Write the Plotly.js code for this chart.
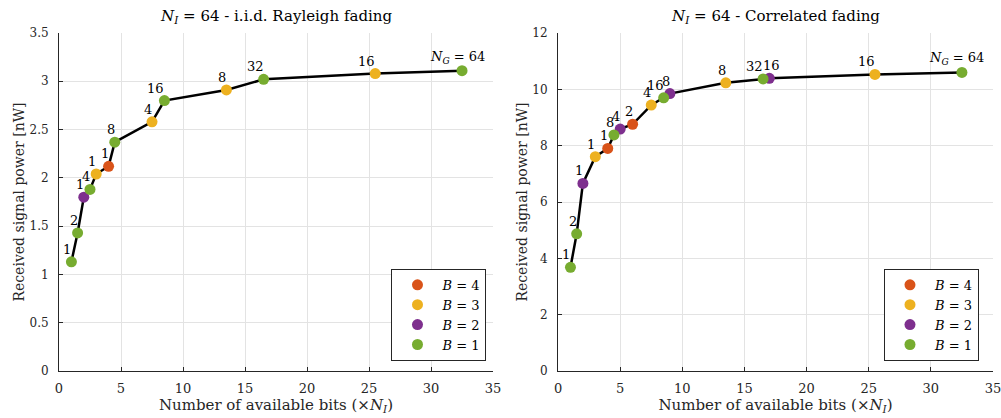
<!DOCTYPE html>
<html>
<head>
<meta charset="utf-8">
<script src="https://cdn.plot.ly/plotly-3.0.1.min.js"></script>
<style>html,body{margin:0;padding:0;background:#fff;}</style>
</head>
<body>
<div id="chart" style="width:1001px;height:418px;"></div>
<script>
// ---- Left panel: i.i.d. Rayleigh fading ----
const iidB1x = [1, 1.5, 2.5, 4.5, 8.5, 16.5, 32.5];
const iidB1y = [1.13, 1.43, 1.88, 2.37, 2.80, 3.02, 3.11];
const iidB1ng = [1, 2, 4, 8, 16, 32, 64];
const iidB2x = [2];
const iidB2y = [1.80];
const iidB2ng = [1];
const iidB3x = [3, 7.5, 13.5, 25.5];
const iidB3y = [2.04, 2.58, 2.91, 3.08];
const iidB3ng = [1, 4, 8, 16];
const iidB4x = [4];
const iidB4y = [2.12];
const iidB4ng = [1];

// ---- Right panel: correlated fading ----
const corB1x = [1, 1.5, 4.5, 8.5, 16.5, 32.5];
const corB1y = [3.68, 4.87, 8.38, 9.70, 10.37, 10.60];
const corB1ng = [1, 2, 8, 16, 32, 64];
const corB2x = [2, 5, 9, 17];
const corB2y = [6.66, 8.59, 9.85, 10.39];
const corB2ng = [1, 4, 8, 16];
const corB3x = [3, 7.5, 13.5, 25.5];
const corB3y = [7.61, 9.44, 10.23, 10.53];
const corB3ng = [1, 4, 8, 16];
const corB4x = [4, 6];
const corB4y = [7.90, 8.76];
const corB4ng = [1, 2];

const bLabels = ['<i>B</i> = 4', '<i>B</i> = 3', '<i>B</i> = 2', '<i>B</i> = 1'];
const colors = ['#D95319', '#EDB120', '#7E2F8E', '#77AC30'];
const xTicks = [0, 5, 10, 15, 20, 25, 30, 35];

const FONT = '"DejaVu Serif", "Liberation Serif", serif';
const MAXNG = 64;

function ngText(n) {
  return n === MAXNG ? '<i>N</i><sub><i>G</i></sub> = ' + n : String(n);
}

function panel(series, xa, ya, legendName) {
  const pts = [];
  series.forEach(s => s.x.forEach((v, i) => pts.push({x: v, y: s.y[i], ng: s.ng[i]})));
  pts.sort((a, b) => a.x - b.x);
  const traces = [{
    x: pts.map(p => p.x), y: pts.map(p => p.y),
    mode: 'lines', line: {color: '#000', width: 2.5},
    xaxis: xa, yaxis: ya, showlegend: false, hoverinfo: 'skip'
  }];
  series.forEach((s, k) => {
    traces.push({
      x: s.x, y: s.y, mode: 'markers', name: bLabels[k],
      marker: {color: colors[k], size: 11},
      xaxis: xa, yaxis: ya, legend: legendName
    });
  });
  const ann = pts.map((p, i) => {
    const a = {
      x: p.x, y: p.y, xref: xa, yref: ya, text: ngText(p.ng),
      showarrow: false, yanchor: 'bottom', yshift: 3,
      font: {family: FONT, size: 13, color: '#000'}
    };
    const prev = pts[i - 1];
    if (p.ng === MAXNG) { a.xanchor = 'center'; a.xshift = -5; }
    else if (prev && p.x - prev.x < 0.75 && String(p.ng).length > 1 && String(prev.ng).length > 1) {
      a.xanchor = 'left'; a.xshift = -8;   // avoid colliding with neighbour label
    } else { a.xanchor = 'right'; a.xshift = 2; }
    return a;
  });
  return {traces, ann};
}

const L = panel([
  {x: iidB4x, y: iidB4y, ng: iidB4ng},
  {x: iidB3x, y: iidB3y, ng: iidB3ng},
  {x: iidB2x, y: iidB2y, ng: iidB2ng},
  {x: iidB1x, y: iidB1y, ng: iidB1ng}
], 'x', 'y', 'legend');
const R = panel([
  {x: corB4x, y: corB4y, ng: corB4ng},
  {x: corB3x, y: corB3y, ng: corB3ng},
  {x: corB2x, y: corB2y, ng: corB2ng},
  {x: corB1x, y: corB1y, ng: corB1ng}
], 'x2', 'y2', 'legend2');

const axisCommon = {
  showline: true, linecolor: '#262626', linewidth: 1,
  ticks: 'inside', ticklen: 4, tickcolor: '#262626',
  showgrid: true, gridcolor: '#e3e3e3', gridwidth: 1,
  zeroline: false, tickfont: {family: FONT, size: 13, color: '#262626'},
  automargin: false, ticklabeloverflow: 'allow'
};

const xTitle = 'Number of available bits (×<i>N</i><sub><i>I</i></sub>)';
const yTitle = 'Received signal power [nW]';
const xTitleFont = {family: FONT, size: 15, color: '#262626'};
const yTitleFont = {family: FONT, size: 14, color: '#262626'};

const titles = [
  {xref: 'x domain', yref: 'y domain', x: 0.5, y: 1, yanchor: 'bottom', yshift: 5,
   text: '<i>N</i><sub><i>I</i></sub> = 64 - i.i.d. Rayleigh fading'},
  {xref: 'x2 domain', yref: 'y2 domain', x: 0.5, y: 1, yanchor: 'bottom', yshift: 5,
   text: '<i>N</i><sub><i>I</i></sub> = 64 - Correlated fading'}
].map(a => Object.assign(a, {showarrow: false, xanchor: 'center',
  font: {family: FONT, size: 15, color: '#000'}}));

const legendCommon = {
  bgcolor: '#fff', bordercolor: '#262626', borderwidth: 1,
  font: {family: FONT, size: 13, color: '#000'},
  xanchor: 'right', yanchor: 'bottom', tracegroupgap: 0, itemwidth: 40
};

const xExtra = {ticklabelstandoff: 5};
const yExtra = {ticklabelstandoff: 7, tickfont: {family: FONT, size: 12, color: '#262626'}};

const layout = {
  width: 1001, height: 418,
  margin: {l: 59, r: 8, t: 33, b: 47},
  paper_bgcolor: '#fff', plot_bgcolor: '#fff',
  font: {family: FONT, color: '#262626'},
  showlegend: true,
  xaxis: Object.assign({}, axisCommon, xExtra, {domain: [0, 0.4647], range: [0, 35], tickvals: xTicks,
    title: {text: xTitle, font: xTitleFont, standoff: 3}}),
  yaxis: Object.assign({}, axisCommon, yExtra, {domain: [0, 1], range: [0, 3.5], dtick: 0.5,
    title: {text: yTitle, font: yTitleFont, standoff: 1}}),
  xaxis2: Object.assign({}, axisCommon, xExtra, {domain: [0.5343, 1], range: [0, 35], tickvals: xTicks, anchor: 'y2',
    title: {text: xTitle, font: xTitleFont, standoff: 3}}),
  yaxis2: Object.assign({}, axisCommon, yExtra, {domain: [0, 1], range: [0, 12], dtick: 2, anchor: 'x2',
    title: {text: yTitle, font: yTitleFont, standoff: 1}}),
  legend: Object.assign({}, legendCommon, {x: 0.4647 - 0.007, y: 0.03}),
  legend2: Object.assign({}, legendCommon, {x: 0.985, y: 0.03}),
  annotations: titles.concat(L.ann, R.ann)
};

Plotly.newPlot('chart', L.traces.concat(R.traces), layout, {displayModeBar: false, staticPlot: true});
</script>
</body>
</html>
